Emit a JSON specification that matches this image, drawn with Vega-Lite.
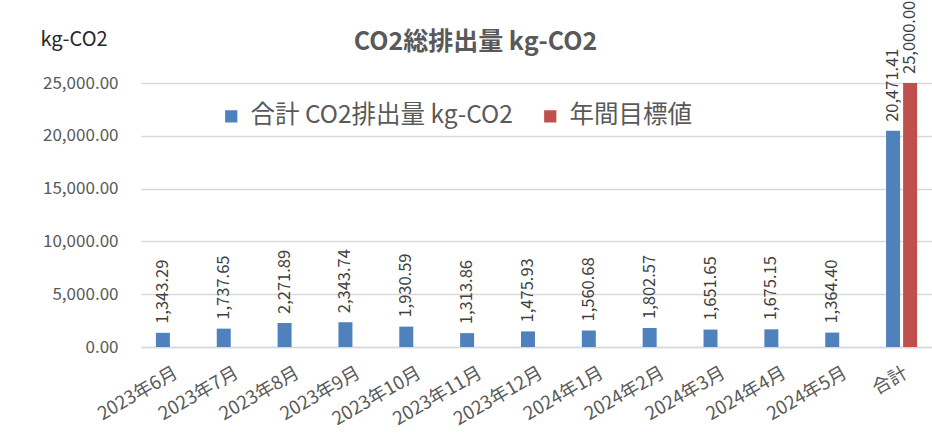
{
  "$schema": "https://vega.github.io/schema/vega-lite/v6.json",
  "autosize": {"type": "none"},
  "padding": {"left": 141, "top": 83, "right": 0, "bottom": 92},
  "width": 791,
  "height": 264,
  "background": "white",
  "title": {
    "text": "CO2総排出量 kg-CO2",
    "anchor": "middle",
    "frame": "group",
    "dx": -61,
    "offset": -54,
    "fontSize": 25,
    "fontWeight": "bold",
    "color": "#595959",
    "font": "Noto Sans CJK JP"
  },
  "config": {
    "font": "Noto Sans CJK JP",
    "view": {"stroke": null}
  },
  "data": {
    "values": [
      {"month": "2023年6月", "series": "合計 CO2排出量 kg-CO2", "value": 1343.29},
      {"month": "2023年7月", "series": "合計 CO2排出量 kg-CO2", "value": 1737.65},
      {"month": "2023年8月", "series": "合計 CO2排出量 kg-CO2", "value": 2271.89},
      {"month": "2023年9月", "series": "合計 CO2排出量 kg-CO2", "value": 2343.74},
      {"month": "2023年10月", "series": "合計 CO2排出量 kg-CO2", "value": 1930.59},
      {"month": "2023年11月", "series": "合計 CO2排出量 kg-CO2", "value": 1313.86},
      {"month": "2023年12月", "series": "合計 CO2排出量 kg-CO2", "value": 1475.93},
      {"month": "2024年1月", "series": "合計 CO2排出量 kg-CO2", "value": 1560.68},
      {"month": "2024年2月", "series": "合計 CO2排出量 kg-CO2", "value": 1802.57},
      {"month": "2024年3月", "series": "合計 CO2排出量 kg-CO2", "value": 1651.65},
      {"month": "2024年4月", "series": "合計 CO2排出量 kg-CO2", "value": 1675.15},
      {"month": "2024年5月", "series": "合計 CO2排出量 kg-CO2", "value": 1364.40},
      {"month": "合計", "series": "合計 CO2排出量 kg-CO2", "value": 20471.41},
      {"month": "合計", "series": "年間目標値", "value": 25000.0}
    ]
  },
  "encoding": {
    "x": {
      "field": "month",
      "type": "nominal",
      "sort": null,
      "scale": {"paddingInner": 0.49, "paddingOuter": 0.245},
      "axis": {
        "title": null,
        "labelAngle": -30,
        "labelAlign": "right",
        "labelBaseline": "top",
        "labelPadding": 16,
        "labelFontSize": 18.5,
        "labelColor": "#595959",
        "ticks": false,
        "domainColor": "#d9d9d9",
        "domainWidth": 1.5
      }
    },
    "xOffset": {
      "field": "series",
      "type": "nominal",
      "sort": ["合計 CO2排出量 kg-CO2", "年間目標値"],
      "scale": {"paddingInner": 0.18, "paddingOuter": 0}
    },
    "y": {
      "field": "value",
      "type": "quantitative",
      "scale": {"domain": [0, 25000], "nice": false},
      "axis": {
        "title": "kg-CO2",
        "titleAngle": 0,
        "titleX": -101,
        "titleY": -38,
        "titleAlign": "left",
        "titleBaseline": "alphabetic",
        "titleFontSize": 20,
        "titleFontWeight": "normal",
        "titleColor": "#262626",
        "values": [0, 5000, 10000, 15000, 20000, 25000],
        "format": ",.2f",
        "labelFontSize": 17,
        "labelColor": "#595959",
        "labelPadding": 23,
        "ticks": false,
        "domain": false,
        "gridColor": "#d9d9d9",
        "gridWidth": 1.5
      }
    },
    "color": {
      "field": "series",
      "type": "nominal",
      "scale": {
        "domain": ["合計 CO2排出量 kg-CO2", "年間目標値"],
        "range": ["#4f81bd", "#c0504d"]
      },
      "legend": {
        "title": null,
        "orient": "none",
        "legendX": 78,
        "legendY": 21,
        "direction": "horizontal",
        "symbolType": "square",
        "symbolSize": 150,
        "symbolStrokeWidth": 0,
        "labelFontSize": 24.5,
        "labelColor": "#595959",
        "labelOffset": 7,
        "columnPadding": 25,
        "labelLimit": 400
      }
    }
  },
  "layer": [
    {"mark": {"type": "bar"}},
    {
      "mark": {
        "type": "text",
        "angle": -90,
        "align": "left",
        "baseline": "middle",
        "dx": 9,
        "fontSize": 16.5,
        "color": "#404040"
      },
      "encoding": {
        "text": {"field": "value", "type": "quantitative", "format": ",.2f"},
        "color": {"value": "#404040"}
      }
    }
  ]
}
